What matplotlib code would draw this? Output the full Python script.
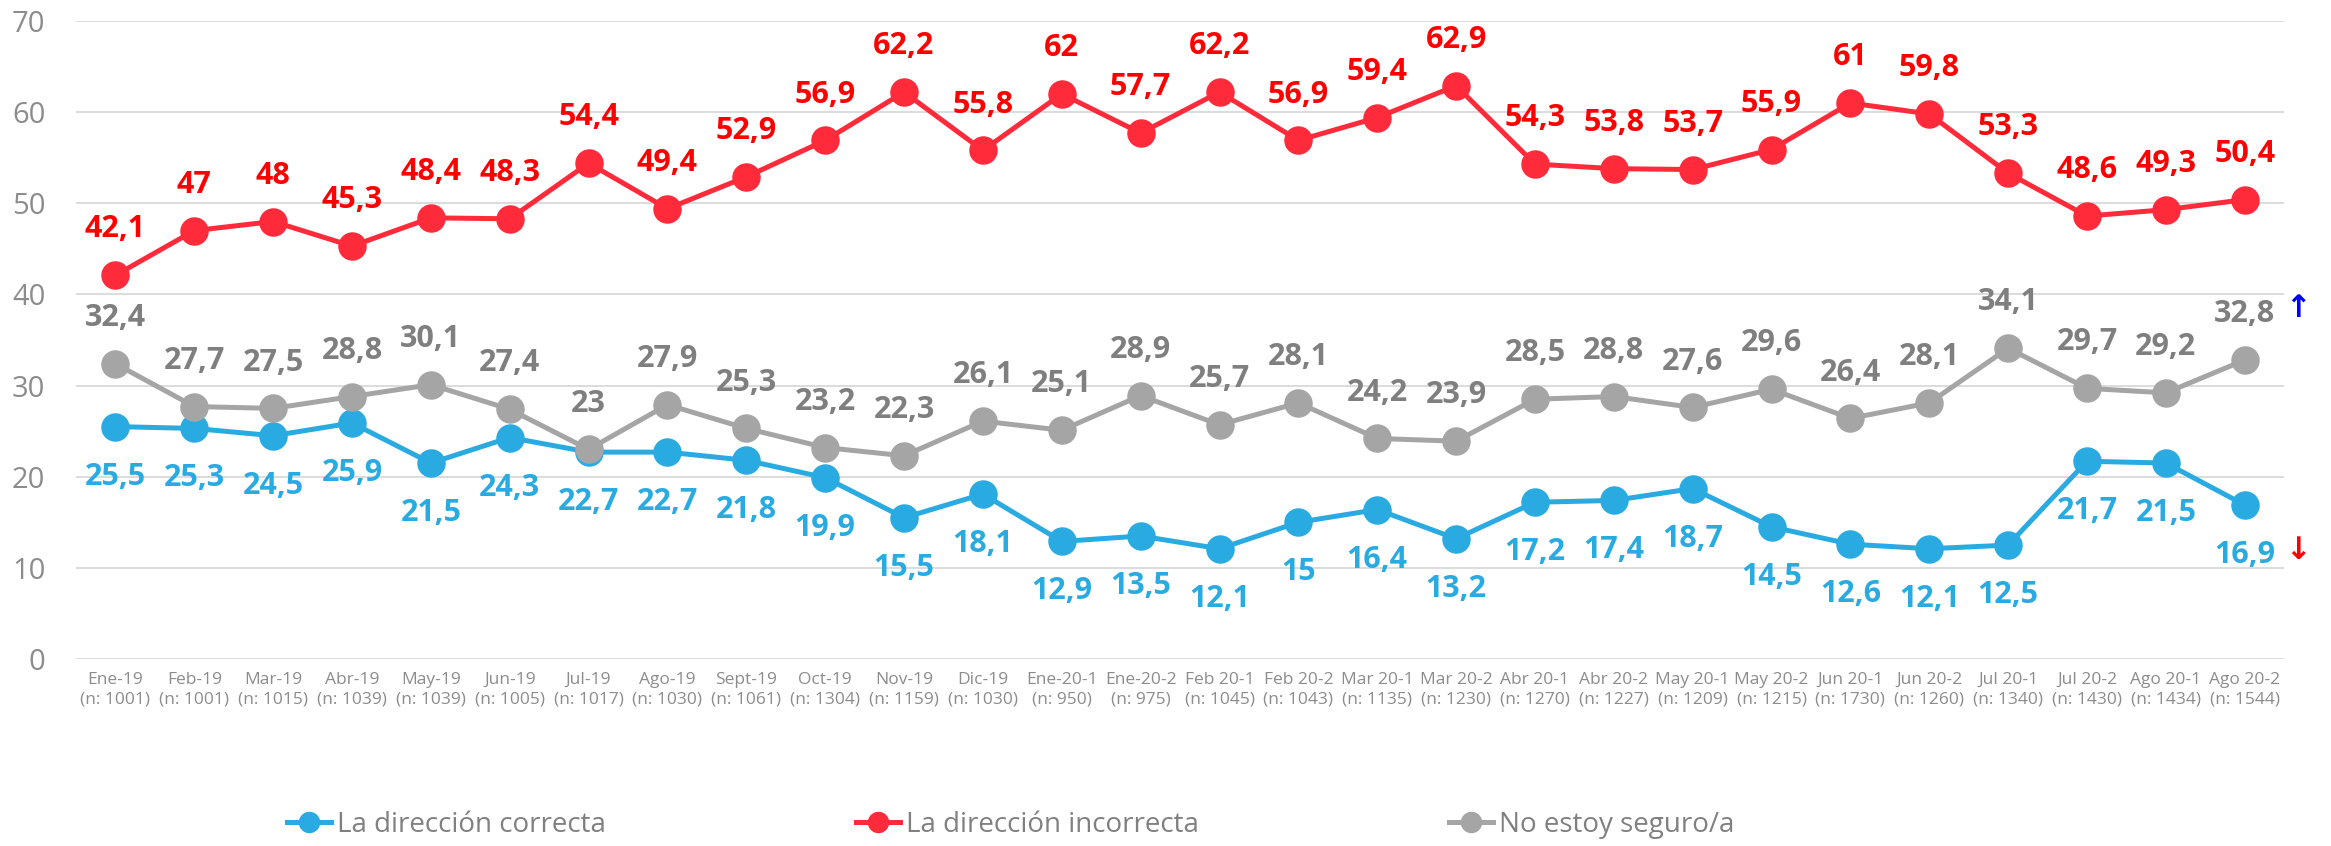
import matplotlib.pyplot as plt

# data
meses = ['Ene-19', 'Feb-19', 'Mar-19', 'Abr-19', 'May-19', 'Jun-19', 'Jul-19',
         'Ago-19', 'Sept-19', 'Oct-19', 'Nov-19', 'Dic-19', 'Ene-20-1', 'Ene-20-2',
         'Feb 20-1', 'Feb 20-2', 'Mar 20-1', 'Mar 20-2', 'Abr 20-1', 'Abr 20-2',
         'May 20-1', 'May 20-2', 'Jun 20-1', 'Jun 20-2', 'Jul 20-1', 'Jul 20-2',
         'Ago 20-1', 'Ago 20-2']
muestras = [1001, 1001, 1015, 1039, 1039, 1005, 1017, 1030, 1061, 1304, 1159, 1030,
            950, 975, 1045, 1043, 1135, 1230, 1270, 1227, 1209, 1215, 1730, 1260,
            1340, 1430, 1434, 1544]
correcta = [25.5, 25.3, 24.5, 25.9, 21.5, 24.3, 22.7, 22.7, 21.8, 19.9, 15.5, 18.1,
            12.9, 13.5, 12.1, 15, 16.4, 13.2, 17.2, 17.4, 18.7, 14.5, 12.6, 12.1,
            12.5, 21.7, 21.5, 16.9]
incorrecta = [42.1, 47, 48, 45.3, 48.4, 48.3, 54.4, 49.4, 52.9, 56.9, 62.2, 55.8,
              62, 57.7, 62.2, 56.9, 59.4, 62.9, 54.3, 53.8, 53.7, 55.9, 61, 59.8,
              53.3, 48.6, 49.3, 50.4]
no_seguro = [32.4, 27.7, 27.5, 28.8, 30.1, 27.4, 23, 27.9, 25.3, 23.2, 22.3, 26.1,
             25.1, 28.9, 25.7, 28.1, 24.2, 23.9, 28.5, 28.8, 27.6, 29.6, 26.4, 28.1,
             34.1, 29.7, 29.2, 32.8]

etiquetas = [f'{m}\n(n: {n})' for m, n in zip(meses, muestras)]
x = list(range(len(meses)))


def fmt(v):
    if float(v).is_integer():
        return str(int(v))
    return str(v).replace('.', ',')


plt.rcParams['font.family'] = ['Open Sans', 'DejaVu Sans']

fig = plt.figure(figsize=(23.31, 8.46), dpi=100)
ax = fig.add_axes([0.0326, 0.2210, 0.9473, 0.7542])

series = [
    ('La dirección correcta', correcta, '#29ABE2', '#29ABE2', -36),
    ('La dirección incorrecta', incorrecta, '#FF2B3B', '#FF0000', 33),
    ('No estoy seguro/a', no_seguro, '#A5A5A5', '#7F7F7F', 33),
]

for nombre, vals, col, col_txt, off in series:
    ax.plot(x, vals, color=col, lw=3.6, marker='o', markersize=19.5,
            label=nombre, zorder=3)

for nombre, vals, col, col_txt, off in series:
    for xi, v in zip(x, vals):
        ax.annotate(fmt(v), (xi, v), xytext=(0, off), textcoords='offset points',
                    ha='center', va='center', fontsize=22, fontweight='bold',
                    color=col_txt, zorder=5)

ax.set_xlim(-0.5, len(meses) - 0.5)
ax.set_ylim(0, 70)
ax.set_yticks(range(0, 71, 10))
ax.set_xticks(x)
ax.set_xticklabels(etiquetas, fontsize=12.5, color='#8C8C8C', linespacing=1.35)
ax.tick_params(axis='y', labelsize=21, labelcolor='#8C8C8C', length=0, pad=22)
ax.tick_params(axis='x', length=0, pad=9)
ax.grid(axis='y', color='#D9D9D9', lw=1.3)
ax.set_axisbelow(True)
for s in ax.spines.values():
    s.set_visible(False)

# flechas al final
ax.annotate('↑', (len(meses) - 1, no_seguro[-1]), xytext=(38, 37),
            textcoords='offset points', ha='center', va='center',
            fontsize=22, fontweight='bold', color='#0000FF', family='DejaVu Sans')
ax.annotate('↓', (len(meses) - 1, correcta[-1]), xytext=(38, -33),
            textcoords='offset points', ha='center', va='center',
            fontsize=22, fontweight='bold', color='#FF0000', family='DejaVu Sans')

leg = fig.legend(loc='center left', bbox_to_anchor=(262 / 2331, 1 - 825 / 846),
                 ncol=3, frameon=False, fontsize=20, handlelength=1.6,
                 handletextpad=0.2, columnspacing=9.0, markerscale=0.74)
for t in leg.get_texts():
    t.set_color('#808080')

fig.savefig('out.png', dpi=100)
